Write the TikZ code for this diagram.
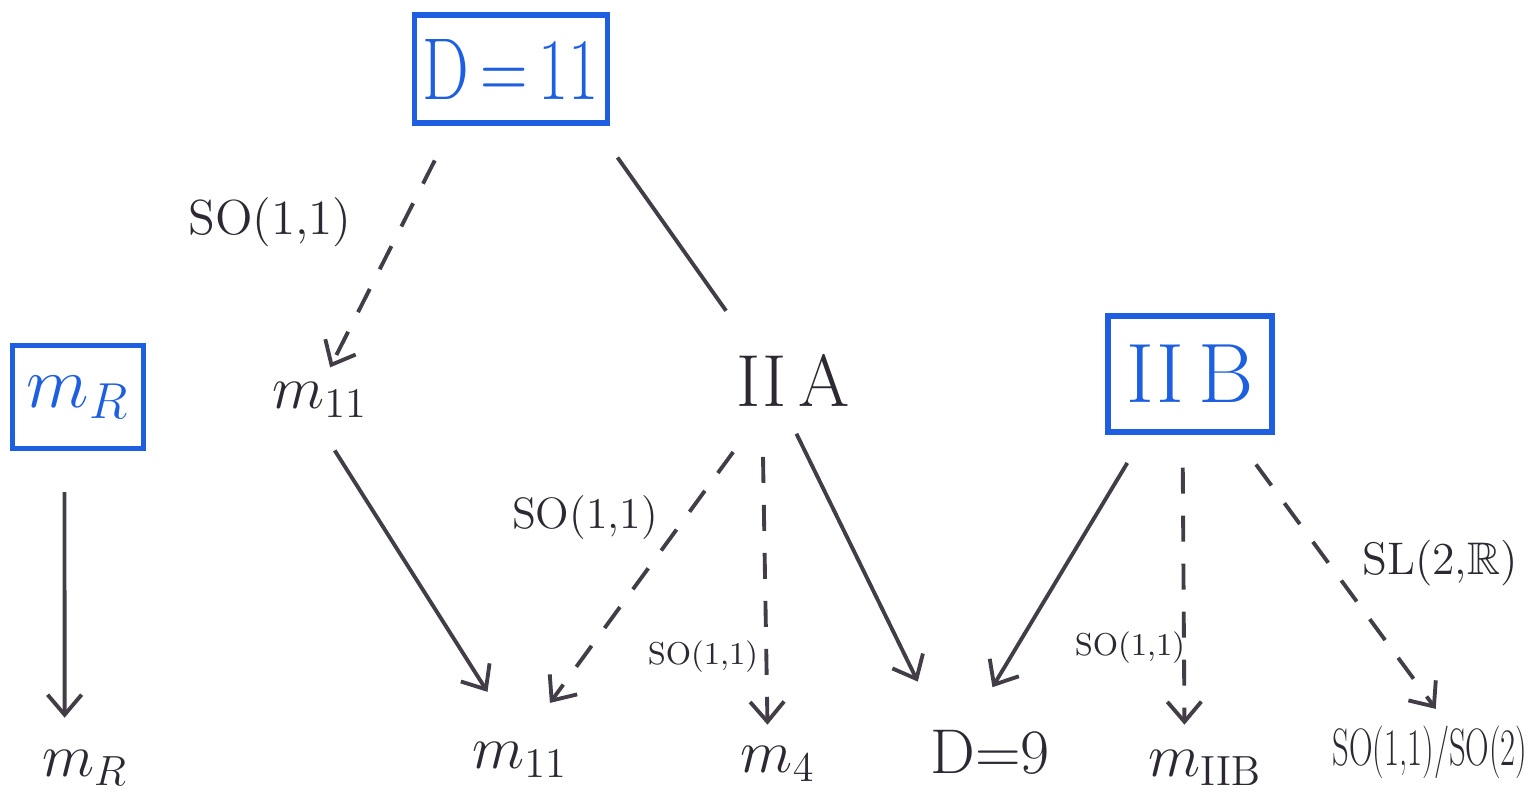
\documentclass[tikz,border=0pt]{standalone}
\usepackage{amssymb,graphicx}
\usetikzlibrary{arrows.meta}
\definecolor{penblue}{RGB}{30,95,225}
\definecolor{ink}{RGB}{45,40,50}

\begin{document}
\begin{tikzpicture}[x=0.1mm,y=0.1mm,
  pad/.style={draw=penblue,line width=1.5pt,text=penblue,inner sep=0pt},
  word/.style={text=ink,inner sep=0pt,font=\fontsize{18}{20}\selectfont},
  tag/.style={text=ink,inner sep=0pt},
  link/.style={draw=ink!90,line width=1.1pt},
  dlink/.style={link,dash pattern=on 2.6mm off 2.2mm},
  arr/.style={-{Straight Barb[length=2mm,width=3.4mm]}}]
\useasboundingbox (0,0) rectangle (1534,-809);
% boxed theories
\node[pad,minimum width=19.3mm,minimum height=10.8mm,font=\fontsize{25}{27}\selectfont] (d11) at (511,-69) {\scalebox{0.75}[1]{D\,=\,11}};
\node[pad,minimum width=13.1mm,minimum height=10.3mm,font=\fontsize{22}{24}\selectfont] (mrbox) at (78,-397) {$m_R$};
\node[pad,minimum width=16.4mm,minimum height=11.6mm,font=\fontsize{24}{26}\selectfont] (iib) at (1190,-374) {II\,B};
% middle row
\node[word] (m11top) at (320,-400) {$m_{11}$};
\node[tag,font=\fontsize{21}{24}\selectfont] (iia) at (793,-380) {II\,A};
% bottom row
\node[word] (mr) at (85,-768) {$m_R$};
\node[word] (m11) at (520,-760) {$m_{11}$};
\node[word] (m4) at (778,-764) {$m_4$};
\node[tag,font=\fontsize{18}{20}\selectfont] (d9) at (990,-752) {D=9};
\node[word] (miib) at (1205,-768) {$m_{\mathrm{IIB}}$};
\node[tag,font=\fontsize{15}{17}\selectfont] (so) at (1430,-752) {\scalebox{0.62}[1]{SO(1,1)/SO(2)}};
% group labels
\node[tag,font=\fontsize{14}{16}\selectfont] (g1) at (270,-222) {SO(1,1)};
\node[tag,font=\fontsize{12.5}{15}\selectfont] (g2) at (585,-518) {SO(1,1)};
\node[tag,font=\fontsize{9}{11}\selectfont] (g3) at (703,-657) {SO(1,1)};
\node[tag,font=\fontsize{9}{11}\selectfont] (g4) at (1130,-648) {SO(1,1)};
\node[tag,font=\fontsize{13}{15}\selectfont] (g5) at (1440,-563) {SL(2,$\mathbb{R}$)};
% reductions
\draw[dlink,arr,shorten <=3.9mm,shorten >=1.6mm] (d11.224) -- (m11top.81);
\draw[link,shorten <=3.9mm,shorten >=5.2mm] (d11.326) -- (iia.144);
\draw[link,arr,shorten <=4.1mm,shorten >=3.2mm] (mrbox.256) -- (mr.138);
\draw[link,arr,shorten <=3.8mm,shorten >=5.9mm] (m11top.253) -- (m11.93);
\draw[dlink,arr,shorten <=5.6mm,shorten >=4.8mm] (iia.225) -- (m11.85);
\draw[dlink,arr,shorten <=5mm,shorten >=2.1mm] (iia.221) -- (m4.119);
\draw[link,arr,shorten <=3mm,shorten >=5.3mm] (iia.250) -- (d9.155);
\draw[link,arr,shorten <=3.3mm,shorten >=4.9mm] (iib.233) -- (d9.135);
\draw[dlink,arr,shorten <=3.3mm,shorten >=2.5mm] (iib.263) -- (miib.138);
\draw[dlink,arr,shorten <=3.7mm,shorten >=2mm] (iib.306) -- (so.57);
\end{tikzpicture}
\end{document}
